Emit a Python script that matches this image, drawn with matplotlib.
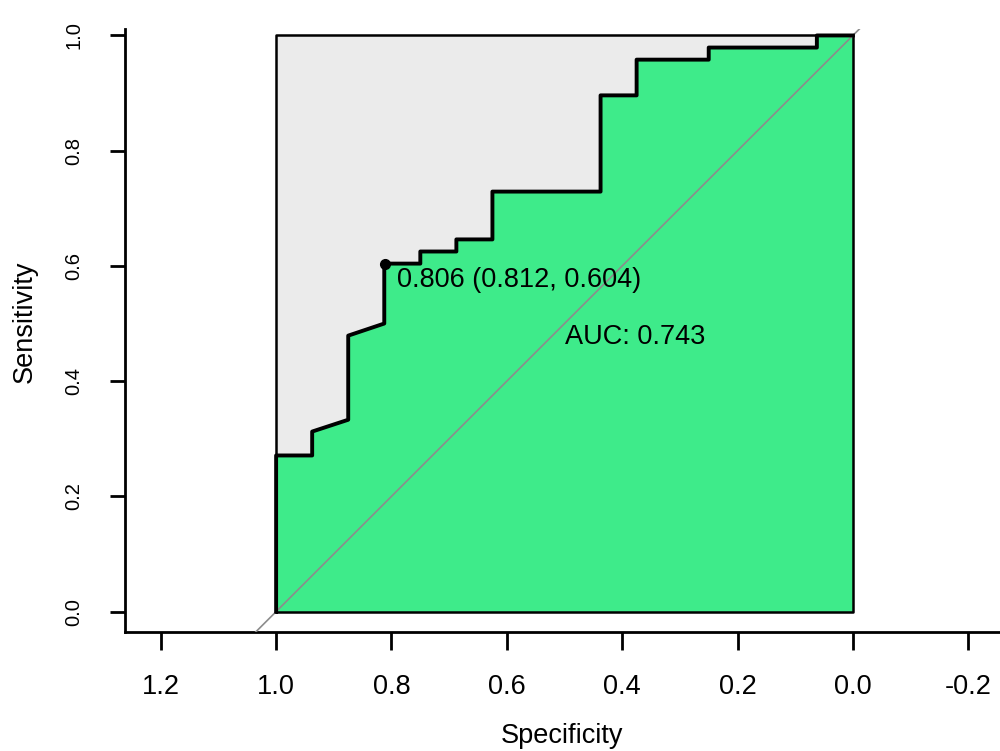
import matplotlib.pyplot as plt

plt.rcParams['font.family'] = ['Liberation Sans', 'DejaVu Sans']

# ROC curve points (specificity, sensitivity)
specificity = [1.0, 1.0, 0.9375, 0.9375, 0.875, 0.875, 0.8125, 0.8125, 0.75, 0.75,
               0.6875, 0.6875, 0.625, 0.625, 0.4375, 0.4375, 0.375, 0.375, 0.25, 0.25,
               0.0625, 0.0625, 0.0]
sensitivity = [0.0, 0.271, 0.271, 0.3125, 0.333, 0.479, 0.5, 0.604, 0.604, 0.625,
               0.625, 0.646, 0.646, 0.729, 0.729, 0.896, 0.896, 0.958, 0.958, 0.979,
               0.979, 1.0, 1.0]

best_thres = 0.806
best_spec, best_sens = 0.812, 0.604
auc = 0.743

x_ticks = [1.2, 1.0, 0.8, 0.6, 0.4, 0.2, 0.0, -0.2]
y_ticks = [0.0, 0.2, 0.4, 0.6, 0.8, 1.0]

fig = plt.figure(figsize=(10, 7.51), dpi=100)
ax = fig.add_axes([0.125, 0.158, 0.875, 0.804])

# grey area for the whole unit square, green under the curve
ax.fill([1, 0, 0, 1], [0, 0, 1, 1], color='#ebebeb', zorder=1)
ax.fill(specificity + [0.0], sensitivity + [0.0], color='#3eeb8a', zorder=2)
ax.plot([1, 0, 0, 1, 1], [0, 0, 1, 1, 0], color='black', lw=1.8, zorder=3)

# chance diagonal
ax.plot([1.3, -0.3], [-0.3, 1.3], color='#8c8c8c', lw=1.2, zorder=4)

ax.plot(specificity, sensitivity, color='black', lw=2.8, zorder=5)
ax.plot([best_spec], [best_sens], 'o', color='black', ms=7, zorder=6)

ax.text(0.79, 0.575, f"{best_thres:.3f} ({best_spec:.3f}, {best_sens:.3f})",
        fontsize=19.5, ha='left', va='center', zorder=7)
ax.text(0.5, 0.477, f"AUC: {auc:.3f}", fontsize=19.5, ha='left', va='center', zorder=7)

ax.set_xlim(1.262, -0.255)
ax.set_ylim(-0.036, 1.012)
ax.set_xticks(x_ticks)
ax.set_xticklabels([f"{t:.1f}" for t in x_ticks])
ax.set_yticks(y_ticks)
ax.set_yticklabels([f"{t:.1f}" for t in y_ticks], rotation=90, va='center')

for s in ['top', 'right']:
    ax.spines[s].set_visible(False)
for s in ['left', 'bottom']:
    ax.spines[s].set_linewidth(2)
ax.tick_params(axis='x', length=13, width=2, labelsize=19.5, pad=17)
ax.tick_params(axis='y', length=11, width=2, labelsize=14.5, pad=19)

ax.set_xlabel("Specificity", fontsize=19.5)
ax.set_ylabel("Sensitivity", fontsize=19.5)
ax.xaxis.set_label_coords(0.5, -0.15)
ax.yaxis.set_label_coords(-0.1, 0.515)

fig.savefig("out.png", dpi=100)
